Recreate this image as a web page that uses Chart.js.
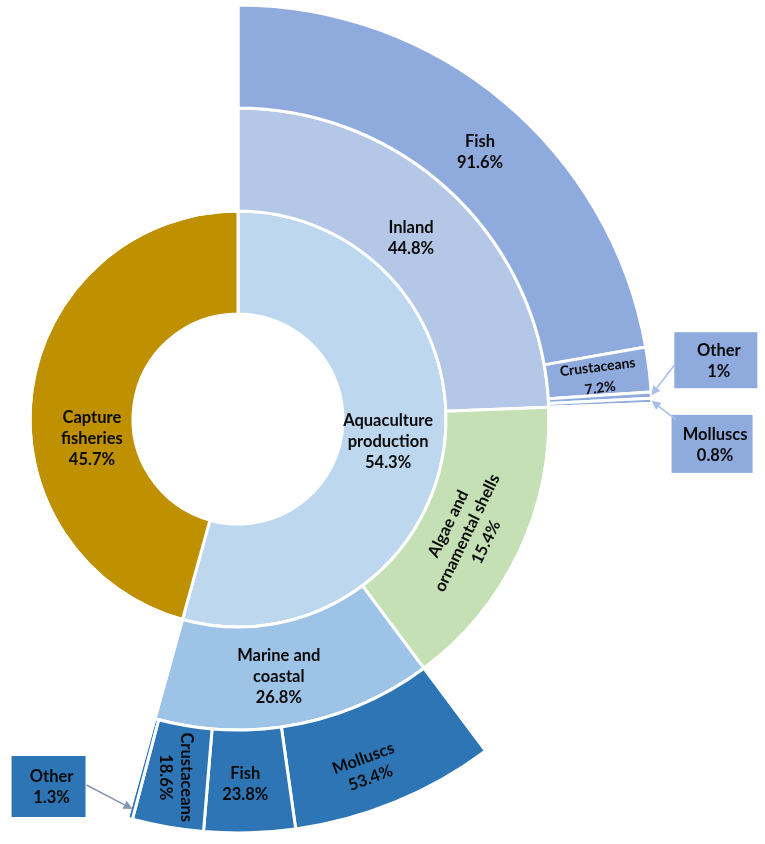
<!DOCTYPE html>
<html>
<head>
<meta charset="utf-8">
<title>Aquaculture and capture fisheries</title>
<script src="https://cdn.jsdelivr.net/npm/chart.js@4"></script>
<style>
  html, body { margin: 0; padding: 0; background: #ffffff; }
  #wrap { position: relative; width: 765px; height: 844px; overflow: hidden; }
</style>
</head>
<body>
<div id="wrap"><canvas id="sunburst" width="765" height="844"></canvas></div>
<script>
// ---- data ----
// inner ring, % of the whole
var INNER_NAMES = ["Aquaculture production", "Capture fisheries"];
var INNER_PCT = [54.3, 45.7];

// middle ring: printed label and arc size (% of the whole circle)
var MID_NAMES = ["Inland", "Algae and ornamental shells", "Marine and coastal"];
var MID_PCT = [44.8, 15.4, 26.8];
var MID_ARC = [24.4, 15.4, 14.5];

// outer ring, printed shares inside their parent
var INLAND_NAMES = ["Fish", "Crustaceans", "Other", "Molluscs"];
var INLAND_PCT = [91.6, 7.2, 1, 0.8];
var MARINE_NAMES = ["Molluscs", "Fish", "Crustaceans", "Other"];
var MARINE_PCT = [53.4, 23.8, 18.6, 1.3];

(function () {
  var GAP = "rgba(0,0,0,0)";
  var FONT = "Lato, 'Open Sans', sans-serif";
  var TEXT = "#0a0a0a";
  var LINE_H = 21;
  var SIZE = 16.5;

  function sum(arr) {
    return arr.reduce(function (a, b) { return a + b; }, 0);
  }

  // children share the parent's arc in proportion to their labels
  var outerValues = [];
  var outerNames = [];
  var outerPct = [];
  var outerColors = [];
  INLAND_PCT.forEach(function (p, i) {
    outerValues.push(MID_ARC[0] * p / sum(INLAND_PCT));
    outerNames.push(INLAND_NAMES[i]);
    outerPct.push(p);
    outerColors.push("#8FAADC");
  });
  outerValues.push(MID_ARC[1]); outerNames.push(""); outerPct.push(null); outerColors.push(GAP);
  MARINE_PCT.forEach(function (p, i) {
    outerValues.push(MID_ARC[2] * p / sum(MARINE_PCT));
    outerNames.push(MARINE_NAMES[i]);
    outerPct.push(p);
    outerColors.push("#2E75B6");
  });
  outerValues.push(INNER_PCT[1]); outerNames.push(""); outerPct.push(null); outerColors.push(GAP);

  var midValues = MID_ARC.concat([INNER_PCT[1]]);
  var midNames = MID_NAMES.concat([""]);
  var midPct = MID_PCT.concat([null]);

  // label text per ring (dataset 0 = outer)
  var RING_NAMES = [outerNames, midNames, INNER_NAMES];
  var RING_PCT = [outerPct, midPct, INNER_PCT];

  // label placement: nudge from arc centre, rotation in degrees
  var LABEL_STYLE = {
    "2:0": { lines: ["Aquaculture", "production"], dx: -5, dy: 2 },
    "2:1": { lines: ["Capture", "fisheries"], dx: 9, dy: 41 },
    "1:0": { dx: -7, dy: 6 },
    "1:1": { lines: ["Algae and", "ornamental shells"], rot: -64, dx: -5, dy: 2 },
    "1:2": { lines: ["Marine and", "coastal"], dx: -7, dy: 3 },
    "0:0": { dx: 9, dy: 11 },
    "0:1": { rot: -7, size: 14, dx: 1, dy: 2 },
    "0:5": { rot: -20, dx: -9, dy: 14 },
    "0:6": { dx: -3, dy: 3 },
    "0:7": { rot: 90, dx: -1, dy: 1 }
  };

  // boxed call-outs for the slivers: box = [dx, dy, w, h] from arrow tip
  var CALLOUTS = [
    { ring: 0, index: 2, inset: 0, box: [23, -63, 83, 56], from: [0, 33], fill: "#8FAADC", arrow: "#A9BEE6" },
    { ring: 0, index: 3, inset: 0, box: [20, 14, 81, 58], from: [5, 5], fill: "#8FAADC", arrow: "#A9BEE6" },
    { ring: 0, index: 8, inset: 10, box: [-121, -53, 74, 61], from: [75, 29], fill: "#2E75B6", arrow: "#8497B0" }
  ];

  function pctText(v) {
    return String(v) + "%";
  }

  function drawLines(ctx, lines, x, y, rot, size) {
    ctx.save();
    ctx.translate(x, y);
    if (rot) ctx.rotate(rot * Math.PI / 180);
    ctx.font = "bold " + size + "px " + FONT;
    ctx.fillStyle = TEXT;
    ctx.textAlign = "center";
    ctx.textBaseline = "middle";
    var top = -(lines.length - 1) * LINE_H / 2;
    lines.forEach(function (t, i) {
      ctx.fillText(t, 0, top + i * LINE_H);
    });
    ctx.restore();
  }

  function arcPoint(p, r) {
    var mid = (p.startAngle + p.endAngle) / 2;
    return { x: p.x + Math.cos(mid) * r, y: p.y + Math.sin(mid) * r };
  }

  var labelPlugin = {
    id: "sunLabels",
    afterDatasetsDraw: function (chart) {
      var ctx = chart.ctx;
      var props = ["x", "y", "startAngle", "endAngle", "innerRadius", "outerRadius"];

      chart.data.datasets.forEach(function (ds, di) {
        var meta = chart.getDatasetMeta(di);
        meta.data.forEach(function (arc, i) {
          var style = LABEL_STYLE[di + ":" + i];
          if (!style) return;
          var p = arc.getProps(props, true);
          var c = arcPoint(p, (p.innerRadius + p.outerRadius) / 2);
          var lines = (style.lines || [RING_NAMES[di][i]]).concat([pctText(RING_PCT[di][i])]);
          drawLines(ctx, lines, c.x + (style.dx || 0), c.y + (style.dy || 0), style.rot || 0, style.size || SIZE);
        });
      });

      CALLOUTS.forEach(function (co) {
        var arc = chart.getDatasetMeta(co.ring).data[co.index];
        var p = arc.getProps(props, true);
        var tip = arcPoint(p, p.outerRadius - co.inset);
        var bx = tip.x + co.box[0];
        var by = tip.y + co.box[1];
        var bw = co.box[2];
        var bh = co.box[3];

        ctx.save();
        ctx.fillStyle = co.fill;
        ctx.fillRect(bx, by, bw, bh);

        // arrow from box to the sliver
        var sx = bx + co.from[0];
        var sy = by + co.from[1];
        var ang = Math.atan2(tip.y - sy, tip.x - sx);
        var headLen = 9;
        var ex = tip.x - Math.cos(ang) * headLen;
        var ey = tip.y - Math.sin(ang) * headLen;
        ctx.strokeStyle = co.arrow;
        ctx.fillStyle = co.arrow;
        ctx.lineWidth = 1.5;
        ctx.beginPath();
        ctx.moveTo(sx, sy);
        ctx.lineTo(ex, ey);
        ctx.stroke();
        ctx.beginPath();
        ctx.moveTo(tip.x, tip.y);
        ctx.lineTo(ex + Math.sin(ang) * 4.5, ey - Math.cos(ang) * 4.5);
        ctx.lineTo(ex - Math.sin(ang) * 4.5, ey + Math.cos(ang) * 4.5);
        ctx.closePath();
        ctx.fill();
        ctx.restore();

        drawLines(ctx, [RING_NAMES[co.ring][co.index], pctText(RING_PCT[co.ring][co.index])],
          bx + bw / 2 + 3, by + bh / 2 + 1, 0, SIZE);
      });
    }
  };

  var canvas = document.getElementById("sunburst");
  new Chart(canvas.getContext("2d"), {
    type: "doughnut",
    data: {
      labels: outerNames,
      datasets: [
        {
          data: outerValues,
          backgroundColor: outerColors,
          borderColor: "#ffffff",
          borderWidth: 3
        },
        {
          data: midValues,
          backgroundColor: ["#B4C7E7", "#C5E0B4", "#9DC3E6", GAP],
          borderColor: "#ffffff",
          borderWidth: 3
        },
        {
          data: INNER_PCT,
          backgroundColor: ["#BDD7EE", "#BF9000"],
          borderColor: "#ffffff",
          borderWidth: 3
        }
      ]
    },
    options: {
      responsive: false,
      devicePixelRatio: 1,
      animation: false,
      events: [],
      radius: 414,
      cutout: (105 / 414 * 100) + "%",
      layout: { padding: { left: 0, right: 289, top: 0, bottom: 6 } },
      plugins: {
        legend: { display: false },
        tooltip: { enabled: false }
      }
    },
    plugins: [labelPlugin]
  });
})();
</script>
</body>
</html>
